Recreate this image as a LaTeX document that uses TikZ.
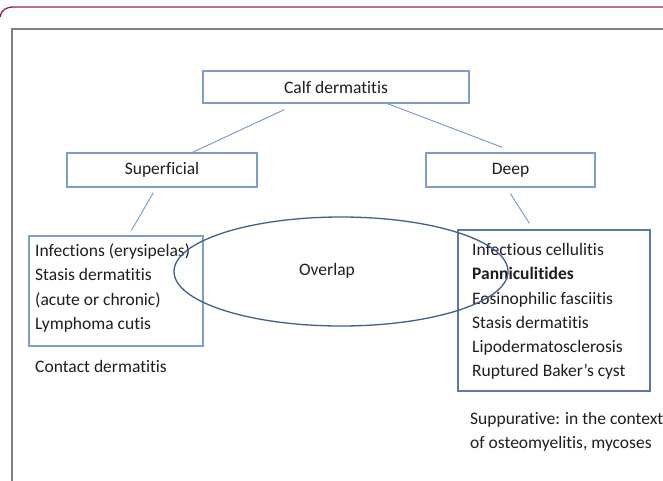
\documentclass[tikz,border=0pt]{standalone}
\usepackage{fontspec}
\setmainfont[Ligatures=NoCommon]{Carlito}
\usetikzlibrary{shapes.geometric}
\definecolor{boxblue}{HTML}{7C9FD0}
\definecolor{boxdark}{HTML}{5A78A8}
\definecolor{ellblue}{HTML}{3F5F8E}
\definecolor{framered}{HTML}{8E2445}
\definecolor{framegray}{HTML}{808080}
\definecolor{txt}{HTML}{1E1E1E}
\tikzset{
  boxnode/.style={draw=boxblue, line width=1.2pt, inner sep=0pt, fill=white},
  txtnode/.style={inner sep=0pt, align=left, text=txt},
  conn/.style={draw=boxblue, line width=1pt},
}
\begin{document}
\begin{tikzpicture}[x=1pt,y=-1pt,font=\fontsize{17.5}{24.3}\selectfont]
\useasboundingbox (0,0) rectangle (663,481);
% frame
\draw[framered, line width=1.3pt] (0,17) .. controls (1,10) and (6,7) .. (14,7) -- (663,7);
\draw[framegray, line width=1.3pt] (12,481) -- (12,29) -- (663,29);
% top boxes
\node[boxnode, minimum width=266pt, minimum height=32pt, text=txt] (calf) at (336,87) {Calf dermatitis};
\node[boxnode, minimum width=190pt, minimum height=34pt, text=txt] (sup) at (162,170) {Superficial};
\node[boxnode, minimum width=169pt, minimum height=34pt, text=txt] (deep) at (510.5,170) {Deep};
% lower boxes
\node[boxnode, minimum width=174pt, minimum height=110pt] (lb) at (116,291) {};
\node[boxnode, draw=boxdark, minimum width=192pt, minimum height=161pt] (rb) at (554,310.5) {};
\node[txtnode, anchor=west] (lbt) at (35,288) {Infections (erysipelas)\\Stasis dermatitis\\(acute or chronic)\\Lymphoma cutis};
\node[txtnode, anchor=west] (rbt) at (472,311.5) {Infectious cellulitis\\\textbf{Panniculitides}\\Eosinophilic fasciitis\\Stasis dermatitis\\Lipodermatosclerosis\\Ruptured Baker’s cyst};
\node[txtnode, anchor=west] (contact) at (35,366) {Contact dermatitis};
\node[txtnode, anchor=west] (supp) at (470,431.5) {Suppurative: in the context\\of osteomyelitis, mycoses};
% overlap ellipse
\node[ellipse, draw=ellblue, line width=1.3pt, minimum width=334pt, minimum height=109pt, inner sep=0pt] (ov) at (341,271.5) {};
\node[txtnode] (ovt) at (327,271) {Overlap};
% connectors
\draw[conn] ([shift={(82,6)}]calf.south west) -- ([shift={(126,0)}]sup.north west);
\draw[conn] ([shift={(185,0)}]calf.south west) -- ([shift={(77,-5)}]deep.north west);
\draw[conn] ([shift={(87,5)}]sup.south west) -- ([shift={(103,-5)}]lb.north west);
\draw[conn] ([shift={(85,6)}]deep.south west) -- ([shift={(72,-6)}]rb.north west);
\end{tikzpicture}
\end{document}
